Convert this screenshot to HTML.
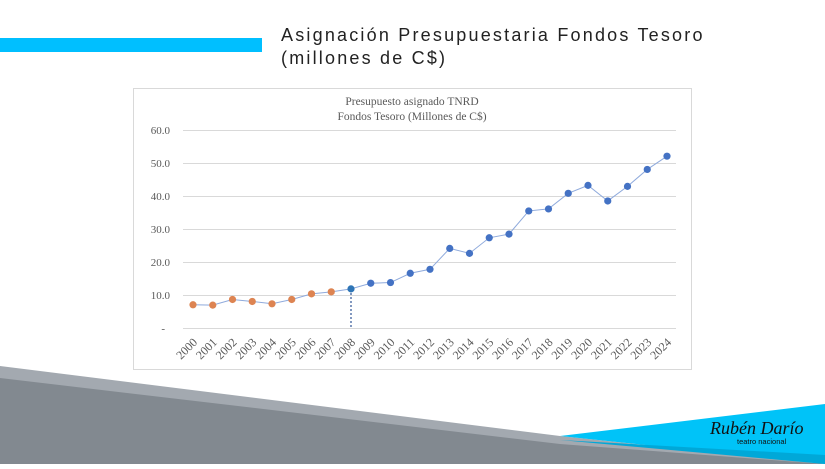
<!DOCTYPE html>
<html><head><style>
body{margin:0;width:825px;height:464px;overflow:hidden;background:#fff;font-family:"Liberation Sans",sans-serif;}
</style></head><body>
<svg width="825" height="464" viewBox="0 0 825 464" xmlns="http://www.w3.org/2000/svg">
<rect x="0" y="38" width="262" height="14" fill="#00bfff"/>
<text x="281" y="41" font-family="Liberation Sans" font-size="18" letter-spacing="2.2" fill="#222">Asignación Presupuestaria Fondos Tesoro</text>
<text x="281" y="64" font-family="Liberation Sans" font-size="18" letter-spacing="2.2" fill="#222">(millones de C$)</text>
<rect x="133.5" y="88.5" width="558" height="281" fill="#fff" stroke="#d9d9d9"/>
<text x="412" y="105" text-anchor="middle" font-family="Liberation Serif" font-size="11.5" fill="#595959">Presupuesto asignado TNRD</text>
<text x="412" y="120" text-anchor="middle" font-family="Liberation Serif" font-size="11.5" fill="#595959">Fondos Tesoro (Millones de C$)</text>
<g stroke="#d9d9d9" stroke-width="1">
<line x1="183" x2="676" y1="130.5" y2="130.5"/><line x1="183" x2="676" y1="163.5" y2="163.5"/>
<line x1="183" x2="676" y1="196.5" y2="196.5"/><line x1="183" x2="676" y1="229.5" y2="229.5"/>
<line x1="183" x2="676" y1="262.5" y2="262.5"/><line x1="183" x2="676" y1="295.5" y2="295.5"/>
<line x1="183" x2="676" y1="328.5" y2="328.5"/>
</g>
<g font-family="Liberation Serif" font-size="11" fill="#595959" text-anchor="end">
<text x="170" y="134">60.0</text><text x="170" y="167">50.0</text><text x="170" y="200">40.0</text>
<text x="170" y="233">30.0</text><text x="170" y="266">20.0</text><text x="170" y="299">10.0</text><text x="165" y="332">-</text>
</g>
<line x1="351" y1="289" x2="351" y2="329" stroke="#2f5597" stroke-width="1.2" stroke-dasharray="2,2"/>
<g id="c"></g>
<polygon points="0,366 560,436 825,464 0,464" fill="#a3a9b0"/>
<polygon points="0,378 560,444 825,464 0,464" fill="#828990"/>
<polygon points="560,436 825,404 825,464" fill="#00c3f8"/>
<polygon points="560,440 825,455 825,464" fill="#00a8d8"/>
<text x="710" y="434" font-family="Liberation Serif" font-style="italic" font-size="18" fill="#111">Rubén Darío</text>
<text x="737" y="444" font-family="Liberation Sans" font-size="7.5" fill="#111">teatro nacional</text>
</svg>
<script>
var v=[7.3,7.2,8.9,8.3,7.6,8.9,10.6,11.2,12.1,13.8,14.0,16.8,18.0,24.3,22.8,27.5,28.6,35.6,36.2,40.9,43.3,38.6,43.0,48.1,52.1];
var s='',p=[];
for(var i=0;i<25;i++){var x=193+i*19.75,y=329-v[i]*3.317;p.push(x+','+y);}
s+='<polyline points="'+p.join(' ')+'" fill="none" stroke="#8faadc" stroke-width="1"/>';
for(var i=0;i<25;i++){var x=193+i*19.75,y=329-v[i]*3.317;
s+='<circle cx="'+x+'" cy="'+y+'" r="3.6" fill="'+(i<8?'#dd8452':(i==8?'#2e75b6':'#4472c4'))+'"/>';
s+='<text transform="translate('+(x+5)+',343) rotate(-45)" text-anchor="end" font-family="Liberation Serif" font-size="12" fill="#595959">'+(2000+i)+'</text>';}
document.getElementById('c').innerHTML=s;
</script>
</body></html>
